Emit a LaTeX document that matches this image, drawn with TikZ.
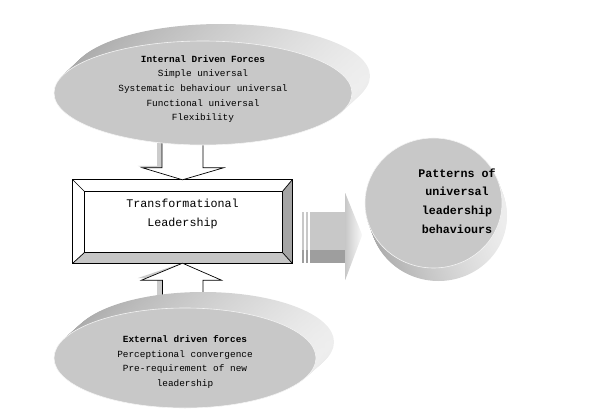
\documentclass[tikz,border=0pt]{standalone}
\usepackage{fontspec}
\setmonofont{Liberation Mono}
\usepackage{xcolor}
\usepackage{tikz}
\usetikzlibrary{shapes.geometric, calc, positioning}

\definecolor{facegray}{RGB}{200,200,200}
\definecolor{rimdark}{RGB}{168,168,168}
\definecolor{rimlight}{RGB}{238,238,238}
\definecolor{bevelright}{RGB}{165,165,165}
\definecolor{bevelbottom}{RGB}{198,198,198}
\definecolor{arrowgray}{RGB}{200,200,200}
\definecolor{arrowdark}{RGB}{158,158,158}

\begin{document}
\begin{tikzpicture}[
  x=1pt, y=-1pt,
  disk/.style={ellipse, fill=facegray, draw=white!80!facegray, line width=0.6pt, inner sep=0pt},
  rimshade/.style={left color=rimdark, right color=rimlight},
  blockarrow/.style={fill=white, draw=black, line width=0.7pt, line join=miter},
  glow/.style={fill=black!20},
  bevelline/.style={draw=black, line width=0.7pt},
  disktext/.style={font=\ttfamily\fontsize{9.4}{14.6}\selectfont, align=center, text=black},
  boxtext/.style={font=\ttfamily\fontsize{11.7}{18.3}\selectfont, align=center, text=black}
]
\useasboundingbox (0,0) rectangle (602,417);

% --- Bevelled box ---
\node[minimum width=219pt, minimum height=83pt, inner sep=0pt] (trans) at (182.5,221.5) {};
\coordinate (tin-nw) at ($(trans.north west)+(12,12)$);
\coordinate (tin-ne) at ($(trans.north east)+(-10,12)$);
\coordinate (tin-se) at ($(trans.south east)+(-10,-11)$);
\coordinate (tin-sw) at ($(trans.south west)+(12,-11)$);
\fill[white] (trans.north west) -- (trans.north east) -- (tin-ne) -- (tin-nw) -- cycle;
\fill[white] (trans.north west) -- (tin-nw) -- (tin-sw) -- (trans.south west) -- cycle;
\fill[bevelright] (trans.north east) -- (trans.south east) -- (tin-se) -- (tin-ne) -- cycle;
\fill[bevelbottom] (trans.south west) -- (tin-sw) -- (tin-se) -- (trans.south east) -- cycle;
\draw[bevelline] (trans.north west) rectangle (trans.south east);
\draw[bevelline] (tin-nw) rectangle (tin-se);
\draw[bevelline] (trans.north west) -- (tin-nw) (trans.north east) -- (tin-ne)
  (trans.south east) -- (tin-se) (trans.south west) -- (tin-sw);
\node[boxtext] (translabel) at ($(trans.center)+(0,-7.5)$) {Transformational\\Leadership};

% --- Down arrow into the box ---
\fill[glow] ($(trans.north)+(-25.5,-50)$) -- ($(trans.north)+(-25.5,-14)$) -- ($(trans.north)+(-45,-14)$)
  -- ($(trans.north)+(-4,-2)$) -- ($(trans.north)+(-15.5,-14)$) -- ($(trans.north)+(-15.5,-50)$) -- cycle;
\draw[blockarrow] ($(trans.north)+(-20.5,-50)$) -- ($(trans.north)+(-20.5,-12)$) -- ($(trans.north)+(-40,-12)$)
  -- (trans.north) -- ($(trans.north)+(41,-12)$) -- ($(trans.north)+(20.5,-12)$) -- ($(trans.north)+(20.5,-50)$);

% --- Up arrow into the box ---
\fill[glow] ($(trans.south)+(-25.5,45)$) -- ($(trans.south)+(-25.5,15)$) -- ($(trans.south)+(-45,15)$)
  -- ($(trans.south)+(-4,1)$) -- ($(trans.south)+(-15.5,15)$) -- ($(trans.south)+(-15.5,45)$) -- cycle;
\draw[blockarrow] ($(trans.south)+(-20,45)$) -- ($(trans.south)+(-20,17)$) -- ($(trans.south)+(-41,17)$)
  -- (trans.south) -- ($(trans.south)+(39,17)$) -- ($(trans.south)+(20.5,17)$) -- ($(trans.south)+(20.5,45)$);

% --- Striped arrow to the right ---
\coordinate (ra) at ($(trans.east)+(17.5,-9.5)$);
\fill[arrowgray] ($(ra)+(-8,0)$) rectangle ($(ra)+(-6,38)$);
\fill[arrowdark] ($(ra)+(-8,38)$) rectangle ($(ra)+(-6,51)$);
\fill[arrowgray] ($(ra)+(-4,0)$) rectangle ($(ra)+(-2,38)$);
\fill[arrowdark] ($(ra)+(-4,38)$) rectangle ($(ra)+(-2,51)$);
\fill[arrowgray] (ra) rectangle ($(ra)+(35.5,38)$);
\fill[arrowdark] ($(ra)+(0,38)$) rectangle ($(ra)+(35.5,51)$);
\shade[left color=arrowgray, right color=white!90!arrowgray] ($(ra)+(35.5,-19)$) -- ($(ra)+(52.5,23)$)
  -- ($(ra)+(35.5,68)$) -- cycle;

% --- Upper disk ---
\coordinate (topc) at (203,93);
\foreach \k in {20,...,1}
  \shade[rimshade] ($(topc)+(\k*0.9,-\k*0.85)$) ellipse [x radius=149pt, y radius=52pt];
\node[disk, minimum width=298pt, minimum height=104pt] (topdisk) at (topc) {};
\node[disktext] (internal) at (203,89) {\textbf{Internal Driven Forces}\\Simple universal\\Systematic behaviour universal\\Functional universal\\Flexibility};

% --- Lower disk ---
\coordinate (botc) at (185,358);
\foreach \k in {20,...,1}
  \shade[rimshade] ($(botc)+(\k*0.9,-\k*0.8)$) ellipse [x radius=131pt, y radius=50pt];
\node[disk, minimum width=262pt, minimum height=100pt] (botdisk) at (botc) {};
\node[disktext] (external) at (185,362) {\textbf{External driven forces}\\Perceptional convergence\\Pre-requirement of new\\leadership};

% --- Right disk ---
\coordinate (rightc) at (433.5,203);
\foreach \k in {20,...,1}
  \shade[rimshade] ($(rightc)+(\k*0.25,\k*0.65)$) ellipse [x radius=68.5pt, y radius=65pt];
\node[disk, minimum width=137pt, minimum height=130pt] (rightdisk) at (rightc) {};
\node[boxtext, font=\ttfamily\bfseries\fontsize{11.7}{18.7}\selectfont] (patterns) at (457,201) {Patterns of\\universal\\leadership\\behaviours};

\end{tikzpicture}
\end{document}
